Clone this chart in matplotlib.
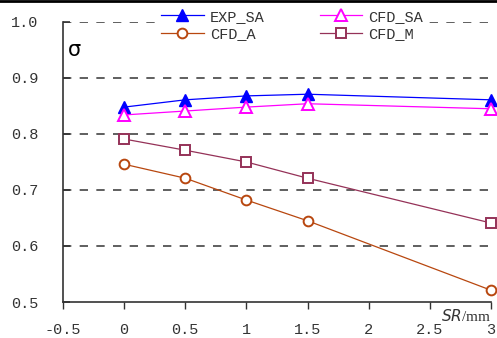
import matplotlib.pyplot as plt
from matplotlib.lines import Line2D

sr = [0, 0.5, 1, 1.5, 3]
exp_sa = [0.848, 0.861, 0.868, 0.871, 0.861]
cfd_sa = [0.834, 0.841, 0.848, 0.854, 0.845]
cfd_a = [0.746, 0.721, 0.682, 0.645, 0.521]
cfd_m = [0.791, 0.771, 0.750, 0.721, 0.641]
xticks = [-0.5, 0, 0.5, 1, 1.5, 2, 2.5, 3]
yticks = [0.5, 0.6, 0.7, 0.8, 0.9, 1.0]

plt.rcParams['font.family'] = ['Liberation Mono', 'DejaVu Sans']

fig = plt.figure(figsize=(4.97, 3.38), dpi=100)
ax = fig.add_axes([0.1268, 0.1065, 0.8612, 0.8285])

for y in yticks[1:]:
    ax.axhline(y, color='#444444', lw=1.2, ls=(0, (5, 5)), zorder=0)

l1, = ax.plot(sr, exp_sa, color='#0000ff', lw=0.9, marker='^', ms=8, mfc='#0000ff', mec='#0000ff', clip_on=False, label='EXP_SA')
l2, = ax.plot(sr, cfd_sa, color='#ff00ff', lw=0.9, marker='^', ms=8, mfc='white', mec='#ff00ff', mew=1.4, clip_on=False, label='CFD_SA')
l3, = ax.plot(sr, cfd_a, color='#b8470f', lw=0.9, marker='o', ms=7, mfc='white', mec='#b8470f', mew=1.4, clip_on=False, label='CFD_A')
l4, = ax.plot(sr, cfd_m, color='#953258', lw=0.9, marker='s', ms=7, mfc='white', mec='#953258', mew=1.4, clip_on=False, label='CFD_M')

ax.set_xlim(-0.5, 3)
ax.set_ylim(0.5, 1.0)
ax.set_xticks(xticks)
ax.set_xticklabels(['-0.5', '0', '0.5', '1', '1.5', '2', '2.5', '3'])
ax.set_yticks(yticks)
ax.set_yticklabels(['0.5', '0.6', '0.7', '0.8', '0.9', '1.0'])
ax.tick_params(axis='x', direction='out', length=5, width=1, labelsize=11, colors='#333333', pad=10)
ax.tick_params(axis='y', direction='in', length=5, width=1.2, labelsize=11, colors='#333333', pad=18)
ax.spines['top'].set_visible(False)
ax.spines['right'].set_visible(False)
ax.spines['left'].set_color('#333333')
ax.spines['bottom'].set_color('#333333')
ax.spines['left'].set_linewidth(1.2)
ax.spines['bottom'].set_linewidth(1.2)

ax.text(0.012, 0.88, 'σ', transform=ax.transAxes, fontsize=15, family='DejaVu Sans', color='black')
ax.text(1.0, -0.022, r'$SR$/mm', transform=ax.transAxes, ha='right', va='top',
        fontsize=11, color='#333333', family='Liberation Serif')

# column-wise fill: row 1 = EXP_SA, CFD_SA ; row 2 = CFD_A, CFD_M
leg = ax.legend([l1, l3, l2, l4], ['EXP_SA', 'CFD_A', 'CFD_SA', 'CFD_M'],
                loc='upper center', bbox_to_anchor=(0.535, 1.055), ncol=2, frameon=True,
                fontsize=11, handlelength=2.8, columnspacing=3.6, labelspacing=0.25,
                borderaxespad=0, borderpad=0.2, handletextpad=0.4)
leg.get_frame().set_edgecolor('white')
leg.get_frame().set_facecolor('white')
leg.get_frame().set_alpha(1)
for t in leg.get_texts():
    t.set_color('#333333')

fig.add_artist(Line2D([0, 1], [0.998, 0.998], color='black', lw=2, transform=fig.transFigure))

fig.savefig('out.png', dpi=100)
